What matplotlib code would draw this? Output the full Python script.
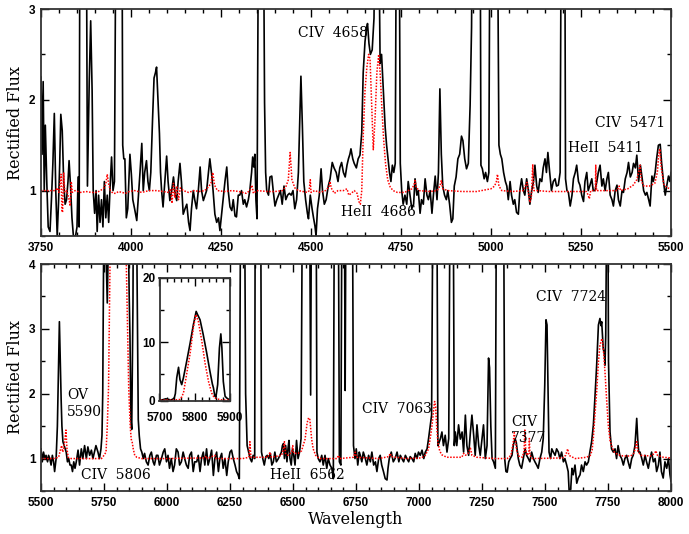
import matplotlib
matplotlib.use('Agg')
import matplotlib.pyplot as plt
from matplotlib.ticker import MultipleLocator, FormatStrFormatter

# ---- observed spectrum, blue part (wavelength, rectified flux) ----
blue_wave = [3750, 3753, 3756, 3759, 3762, 3766, 3770, 3775, 3779, 3783, 3787, 3791, 3795, 3799, 3802, 3805,
             3809, 3813, 3817, 3821, 3825, 3828, 3832, 3836, 3840, 3846, 3850, 3853, 3856, 3858, 3870, 3876,
             3879, 3884, 3888, 3892, 3895, 3899, 3903, 3906, 3910, 3914, 3918, 3922, 3926, 3930, 3934, 3938,
             3942, 3946, 3950, 3954, 3958, 3975, 3977, 3980, 3983, 3987, 3991, 3994, 3997, 4001, 4005, 4010,
             4016, 4020, 4025, 4030, 4034, 4038, 4043, 4047, 4051, 4055, 4060, 4064, 4068, 4071, 4075, 4079,
             4082, 4085, 4089, 4094, 4099, 4103, 4108, 4113, 4118, 4123, 4127, 4131, 4136, 4140, 4145, 4150,
             4155, 4160, 4164, 4168, 4173, 4177, 4182, 4187, 4192, 4196, 4201, 4206, 4210, 4215, 4219, 4224,
             4228, 4233, 4238, 4243, 4247, 4252, 4257, 4261, 4266, 4270, 4275, 4280, 4284, 4289, 4293, 4298,
             4302, 4307, 4312, 4316, 4321, 4326, 4330, 4335, 4338, 4341, 4344, 4347, 4350, 4354, 4368, 4371,
             4374, 4377, 4382, 4386, 4391, 4395, 4400, 4405, 4410, 4415, 4420, 4425, 4430, 4435, 4440, 4445,
             4450, 4455, 4460, 4465, 4469, 4472, 4476, 4480, 4485, 4490, 4493, 4498, 4503, 4507, 4511, 4514,
             4518, 4523, 4528, 4532, 4537, 4542, 4548, 4553, 4559, 4564, 4570, 4575, 4580, 4585, 4590, 4595,
             4600, 4604, 4608, 4611, 4616, 4620, 4626, 4631, 4636, 4641, 4645, 4650, 4654, 4657, 4661, 4665,
             4670, 4675, 4678, 4688, 4692, 4696, 4701, 4706, 4710, 4714, 4718, 4722, 4726, 4730, 4734, 4737,
             4745, 4748, 4752, 4756, 4761, 4766, 4770, 4775, 4780, 4785, 4789, 4794, 4798, 4803, 4807, 4812,
             4817, 4822, 4826, 4831, 4836, 4840, 4845, 4850, 4854, 4858, 4862, 4866, 4871, 4876, 4880, 4885,
             4890, 4894, 4898, 4903, 4908, 4913, 4918, 4922, 4927, 4932, 4937, 4942, 4946, 4948, 4970, 4972,
             4976, 4981, 4985, 4990, 4994, 4997, 5018, 5022, 5026, 5030, 5035, 5040, 5044, 5048, 5053, 5057,
             5062, 5066, 5071, 5076, 5080, 5085, 5090, 5094, 5099, 5104, 5108, 5113, 5118, 5122, 5127, 5131,
             5136, 5141, 5145, 5150, 5154, 5158, 5163, 5168, 5173, 5178, 5182, 5187, 5192, 5195, 5205, 5207,
             5211, 5215, 5220, 5225, 5229, 5234, 5238, 5243, 5247, 5252, 5257, 5261, 5266, 5270, 5275, 5280,
             5284, 5289, 5294, 5298, 5303, 5308, 5312, 5317, 5322, 5326, 5331, 5336, 5340, 5345, 5350, 5354,
             5359, 5364, 5368, 5373, 5378, 5382, 5387, 5392, 5396, 5401, 5405, 5410, 5415, 5420, 5424, 5429,
             5433, 5438, 5442, 5447, 5451, 5456, 5460, 5465, 5470, 5474, 5479, 5484, 5488, 5493, 5497, 5500]
blue_flux = [2.25, 1.4, 2.2, 1.0, 1.72, 1.1, 0.6, 0.55, 0.9, 1.3, 1.85, 1.0, 0.5, 0.9, 1.3, 1.84,
             1.66, 1.1, 0.85, 0.9, 1.1, 1.33, 1.05, 0.7, 0.5, 0.5, 0.6, 1.15, 0.6, 4.0, 4.0, 4.0,
             1.05, 2.2, 2.87, 2.1, 1.0, 0.75, 1.0, 0.55, 0.95, 0.65, 0.9, 0.6, 1.1, 0.7, 0.95, 0.65,
             1.05, 1.37, 1.0, 1.1, 4.0, 4.0, 1.5, 1.35, 1.35, 0.7, 0.8, 1.1, 1.4, 1.18, 0.9, 0.8,
             0.67, 0.9, 1.2, 1.52, 1.0, 1.2, 1.33, 1.1, 1.0, 1.2, 1.8, 2.24, 2.3, 2.36, 2.0, 1.63,
             1.2, 1.0, 0.82, 1.1, 1.38, 1.1, 0.89, 1.0, 1.15, 0.95, 0.89, 1.1, 1.3, 1.1, 0.74, 0.8,
             0.85, 0.65, 0.56, 0.8, 1.0, 0.9, 0.8, 1.0, 1.26, 1.0, 0.89, 0.95, 1.0, 1.2, 1.35, 1.18,
             1.0, 0.74, 0.65, 0.7, 0.56, 0.75, 0.95, 1.1, 1.26, 1.0, 0.82, 0.78, 0.9, 0.72, 0.71, 0.95,
             0.95, 1.0, 0.85, 0.9, 0.82, 0.9, 1.0, 1.2, 1.37, 1.26, 1.4, 0.9, 0.69, 4.0, 4.0, 1.97,
             1.2, 1.0, 0.95, 1.15, 1.16, 1.0, 0.83, 0.9, 0.95, 1.0, 0.85, 1.05, 0.9, 0.95, 0.97, 0.95,
             1.0, 0.8, 0.9, 1.2, 1.79, 2.26, 1.72, 1.1, 0.9, 0.75, 0.69, 0.95, 0.8, 0.7, 0.61, 0.5,
             0.8, 0.95, 1.24, 1.0, 0.85, 0.9, 1.05, 1.13, 1.31, 1.25, 1.2, 1.1, 1.25, 1.31, 1.2, 1.15,
             1.28, 1.35, 1.4, 1.46, 1.35, 1.3, 1.25, 1.35, 1.39, 1.64, 2.3, 2.64, 2.78, 2.84, 2.62, 2.5,
             2.55, 2.9, 4.0, 4.0, 2.4, 2.5, 2.1, 1.7, 1.5, 1.35, 1.2, 1.1, 1.28, 1.2, 1.3, 4.0,
             4.0, 1.3, 1.0, 0.85, 0.95, 0.85, 1.1, 0.95, 0.8, 0.85, 1.13, 0.95, 1.0, 0.75, 0.9, 0.85,
             1.13, 0.95, 0.9, 1.0, 0.75, 0.95, 1.16, 0.9, 1.2, 2.12, 1.4, 1.05, 0.95, 0.9, 1.0, 0.85,
             0.65, 0.69, 1.05, 1.15, 1.35, 1.4, 1.6, 1.55, 1.35, 1.24, 1.3, 1.94, 2.8, 4.0, 4.0, 1.28,
             1.24, 1.13, 1.2, 1.1, 1.2, 4.0, 4.0, 1.5, 1.4, 1.35, 1.2, 1.1, 1.05, 0.9, 1.1, 0.95,
             0.85, 0.9, 0.76, 0.74, 1.0, 1.13, 1.0, 0.95, 1.13, 1.0, 0.85, 1.0, 1.1, 1.28, 1.05, 0.98,
             1.13, 1.1, 1.25, 1.35, 1.2, 1.42, 1.2, 1.0, 1.1, 1.13, 1.05, 1.06, 1.2, 4.0, 4.0, 1.13,
             1.0, 0.98, 0.83, 0.95, 1.13, 1.2, 1.28, 1.1, 1.06, 0.95, 0.88, 1.1, 1.2, 1.0, 1.06, 1.13,
             1.0, 1.0, 1.1, 1.2, 1.28, 1.05, 1.13, 1.0, 1.13, 1.2, 0.95, 0.9, 0.83, 1.0, 1.06, 0.9,
             0.83, 1.0, 0.98, 1.13, 1.2, 1.31, 1.15, 1.2, 1.3, 1.25, 1.39, 1.1, 1.28, 1.13, 1.0, 0.95,
             0.98, 0.9, 0.83, 1.16, 1.1, 1.2, 1.35, 1.5, 1.51, 1.3, 1.1, 0.95, 1.05, 1.16, 1.1, 1.2]

# ---- model spectrum, blue part ----
blue_model_wave = [3750, 3790, 3795, 3800, 3806, 3808, 3810, 3813, 3816, 3822, 3828, 3831, 3834, 3837, 3845, 3860,
                   3875, 3890, 3905, 3915, 3925, 3930, 3934, 3938, 3943, 3950, 3958, 3965, 3975, 3985, 3995, 4010,
                   4030, 4050, 4070, 4090, 4105, 4110, 4114, 4118, 4122, 4127, 4132, 4137, 4145, 4160, 4175, 4190,
                   4205, 4215, 4222, 4227, 4232, 4240, 4260, 4280, 4300, 4320, 4330, 4336, 4340, 4350, 4380, 4400,
                   4420, 4430, 4437, 4442, 4447, 4455, 4465, 4490, 4495, 4498, 4500, 4510, 4525, 4540, 4550, 4553,
                   4556, 4565, 4575, 4590, 4600, 4605, 4612, 4620, 4628, 4633, 4637, 4641, 4645, 4650, 4655, 4660,
                   4664, 4668, 4673, 4678, 4683, 4688, 4692, 4697, 4702, 4707, 4713, 4720, 4728, 4740, 4760, 4780,
                   4786, 4789, 4792, 4800, 4830, 4850, 4858, 4862, 4866, 4880, 4920, 4960, 5000, 5010, 5015, 5018,
                   5022, 5030, 5060, 5090, 5096, 5100, 5104, 5108, 5112, 5116, 5119, 5130, 5160, 5200, 5240, 5265,
                   5270, 5273, 5277, 5290, 5291, 5293, 5320, 5350, 5356, 5360, 5380, 5395, 5405, 5410, 5414, 5418,
                   5425, 5440, 5455, 5462, 5466, 5469, 5473, 5480, 5490, 5500]
blue_model_flux = [1.0, 1.0, 1.03, 0.98, 1.18, 0.78, 0.76, 1.2, 0.98, 1.0, 0.9, 0.83, 1.1, 0.98, 1.0, 0.98,
                   0.99, 0.98, 0.98, 1.0, 1.03, 1.07, 1.18, 1.07, 1.0, 0.97, 0.97, 0.99, 0.98, 0.97, 0.99, 1.0,
                   0.98, 1.0, 1.0, 0.99, 0.98, 1.02, 0.86, 1.08, 0.92, 1.05, 0.9, 1.03, 1.0, 0.98, 1.0, 0.99,
                   1.0, 1.04, 1.08, 1.2, 1.06, 1.0, 0.99, 1.0, 0.99, 0.97, 1.0, 1.06, 0.97, 1.0, 0.99, 0.99,
                   1.0, 1.04, 1.12, 1.42, 1.12, 1.03, 1.0, 0.98, 1.0, 1.12, 0.98, 1.0, 0.98, 1.0, 1.04, 1.1,
                   1.03, 0.97, 1.0, 1.0, 1.02, 0.95, 0.97, 1.0, 0.97, 0.88, 0.85, 1.0, 1.6, 2.1, 2.35, 2.5,
                   2.45, 2.0, 1.45, 1.8, 2.3, 2.5, 2.3, 1.9, 1.55, 1.3, 1.12, 1.04, 1.0, 0.98, 0.98, 1.02,
                   1.06, 1.11, 1.04, 1.0, 0.99, 1.0, 1.05, 1.11, 1.02, 1.0, 0.99, 0.99, 1.02, 1.05, 1.1, 1.18,
                   1.05, 1.0, 0.99, 1.0, 1.06, 1.09, 0.97, 0.87, 0.92, 1.29, 1.0, 1.0, 0.99, 0.99, 0.99, 0.99,
                   0.95, 0.91, 1.0, 1.0, 1.28, 1.0, 1.0, 1.0, 1.05, 1.0, 1.02, 1.06, 1.12, 1.2, 1.28, 1.1,
                   1.05, 1.05, 1.08, 1.2, 1.4, 1.46, 1.25, 1.07, 1.03, 1.02]

# ---- observed spectrum, red part ----
red_wave = [5500, 5505, 5510, 5515, 5520, 5526, 5530, 5535, 5540, 5545, 5550, 5554, 5560, 5565, 5569, 5573,
            5576, 5580, 5583, 5587, 5592, 5596, 5600, 5605, 5610, 5615, 5620, 5625, 5630, 5635, 5640, 5647,
            5653, 5660, 5666, 5673, 5680, 5686, 5693, 5700, 5706, 5712, 5718, 5726, 5732, 5738, 5742, 5745,
            5749, 5754, 5758, 5763, 5768, 5777, 5787, 5796, 5804, 5808, 5815, 5824, 5834, 5843, 5850, 5853,
            5857, 5860, 5865, 5870, 5874, 5877, 5881, 5886, 5890, 5895, 5900, 5906, 5911, 5918, 5925, 5932,
            5938, 5945, 5950, 5958, 5964, 5970, 5978, 5985, 5991, 5998, 6004, 6010, 6017, 6024, 6030, 6037,
            6044, 6050, 6057, 6064, 6070, 6077, 6084, 6090, 6097, 6104, 6110, 6118, 6124, 6131, 6137, 6144,
            6150, 6157, 6163, 6170, 6177, 6184, 6190, 6197, 6204, 6210, 6217, 6223, 6230, 6237, 6243, 6250,
            6256, 6263, 6270, 6276, 6282, 6287, 6292, 6308, 6312, 6318, 6324, 6330, 6336, 6342, 6348, 6350,
            6372, 6375, 6380, 6386, 6392, 6398, 6404, 6410, 6416, 6422, 6428, 6434, 6442, 6448, 6454, 6458,
            6462, 6466, 6471, 6476, 6480, 6484, 6488, 6493, 6498, 6503, 6508, 6514, 6520, 6526, 6532, 6537,
            6566, 6570, 6573, 6592, 6595, 6600, 6607, 6614, 6620, 6627, 6634, 6640, 6647, 6654, 6660, 6664,
            6680, 6684, 6690, 6694, 6704, 6707, 6710, 6736, 6740, 6746, 6751, 6757, 6763, 6767, 6773, 6779,
            6787, 6793, 6800, 6807, 6813, 6820, 6827, 6833, 6840, 6846, 6852, 6859, 6866, 6873, 6877, 6882,
            6890, 6898, 6905, 6913, 6920, 6926, 6932, 6939, 6946, 6952, 6959, 6965, 6972, 6979, 6985, 6992,
            6998, 7005, 7012, 7019, 7025, 7032, 7038, 7045, 7050, 7055, 7071, 7075, 7080, 7085, 7091, 7097,
            7104, 7111, 7118, 7123, 7136, 7140, 7144, 7150, 7157, 7164, 7171, 7177, 7184, 7190, 7197, 7204,
            7210, 7217, 7223, 7230, 7237, 7243, 7250, 7256, 7263, 7270, 7276, 7280, 7285, 7290, 7296, 7303,
            7307, 7336, 7340, 7345, 7350, 7356, 7362, 7369, 7374, 7381, 7386, 7394, 7400, 7407, 7414, 7421,
            7427, 7434, 7440, 7447, 7454, 7460, 7467, 7473, 7480, 7487, 7493, 7499, 7504, 7508, 7512, 7516,
            7522, 7527, 7533, 7540, 7546, 7553, 7559, 7566, 7573, 7579, 7586, 7592, 7596, 7602, 7607, 7612,
            7619, 7626, 7632, 7639, 7645, 7652, 7659, 7665, 7672, 7678, 7685, 7692, 7698, 7705, 7712, 7718,
            7722, 7725, 7731, 7736, 7738, 7741, 7744, 7750, 7752, 7758, 7764, 7771, 7778, 7784, 7790, 7797,
            7804, 7811, 7817, 7824, 7830, 7837, 7844, 7850, 7857, 7864, 7868, 7872, 7877, 7884, 7890, 7897,
            7903, 7910, 7917, 7923, 7930, 7937, 7943, 7950, 7956, 7962, 7969, 7976, 7983, 7990, 7996, 8000]
red_flux = [1.15, 0.95, 1.1, 1.0, 1.05, 0.95, 1.05, 1.0, 0.9, 1.05, 0.95, 0.8, 1.0, 1.5, 2.3, 3.11,
            2.6, 1.9, 1.5, 1.26, 1.2, 1.15, 1.1, 0.95, 1.0, 0.9, 0.9, 0.8, 0.95, 0.85, 0.95, 1.13,
            0.9, 1.15, 1.0, 1.2, 1.0, 1.18, 1.05, 1.13, 1.0, 1.1, 1.2, 1.1, 1.0, 1.15, 1.36, 2.0,
            4.5, 6.1, 4.2, 3.4, 4.5, 7.0, 9.9, 12.7, 14.8, 14.3, 13.5, 11.2, 8.3, 5.5, 3.5, 2.9,
            1.6, 1.45, 3.4, 9.1, 11.3, 9.1, 3.9, 1.6, 1.35, 1.15, 1.1, 1.0, 1.08, 0.95, 0.9, 1.05,
            1.1, 0.95, 0.9, 1.05, 1.05, 0.9, 1.0, 1.1, 1.15, 0.95, 1.05, 0.85, 1.0, 0.8, 0.9, 1.15,
            1.1, 0.9, 0.95, 1.1, 1.0, 0.9, 0.85, 1.05, 1.1, 0.8, 0.95, 0.95, 1.05, 0.8, 1.0, 1.1,
            0.9, 1.15, 0.9, 1.0, 1.13, 0.74, 1.0, 1.1, 0.8, 1.0, 1.08, 0.85, 1.0, 0.74, 0.95, 1.1,
            1.13, 1.0, 0.9, 0.8, 0.75, 0.69, 5.0, 5.0, 2.0, 1.2, 1.1, 1.0, 0.95, 1.05, 1.0, 5.0,
            5.0, 1.1, 1.0, 0.9, 1.03, 1.05, 1.0, 1.08, 0.9, 0.95, 1.1, 0.95, 1.0, 1.05, 1.1, 1.2,
            1.23, 1.0, 1.2, 0.95, 1.15, 1.28, 1.0, 0.9, 1.15, 1.05, 0.9, 1.28, 1.0, 1.1, 1.31, 5.0,
            5.0, 1.98, 5.0, 5.0, 1.1, 1.0, 0.95, 1.05, 0.9, 1.05, 0.85, 1.0, 0.9, 0.85, 0.69, 5.0,
            5.0, 0.95, 0.9, 5.0, 5.0, 2.05, 5.0, 5.0, 1.2, 1.0, 1.15, 0.9, 1.1, 1.05, 0.95, 1.1,
            1.0, 0.9, 1.05, 0.95, 1.1, 0.9, 0.95, 0.8, 1.0, 1.05, 0.9, 0.8, 0.69, 0.67, 0.85, 1.0,
            1.1, 0.95, 1.0, 1.1, 0.95, 1.05, 1.0, 0.95, 1.05, 1.0, 0.95, 1.03, 1.0, 0.95, 1.08, 1.0,
            1.1, 1.05, 1.13, 1.0, 1.1, 1.15, 1.31, 1.52, 1.67, 5.0, 5.0, 1.2, 1.25, 1.31, 1.41, 1.2,
            1.36, 1.1, 1.31, 5.0, 5.0, 1.2, 1.41, 1.2, 1.52, 1.3, 1.41, 1.1, 1.67, 1.2, 1.05, 1.41,
            1.67, 1.36, 1.05, 1.52, 1.2, 1.05, 1.31, 1.52, 1.0, 1.2, 2.55, 2.4, 1.5, 1.0, 0.95, 0.85,
            5.0, 5.0, 1.0, 0.8, 0.79, 0.95, 1.0, 1.05, 1.2, 1.31, 1.25, 1.0, 0.9, 0.85, 1.0, 1.15,
            1.05, 1.0, 0.95, 1.1, 1.0, 0.95, 0.9, 0.85, 1.0, 1.1, 1.31, 2.13, 3.14, 3.06, 2.03, 1.1,
            1.0, 1.15, 1.1, 1.05, 1.15, 1.1, 1.0, 1.1, 0.95, 1.0, 0.9, 0.8, 0.48, 0.53, 0.85, 0.75,
            0.9, 0.62, 0.7, 0.75, 0.9, 0.8, 0.95, 0.9, 0.95, 1.1, 1.26, 1.52, 1.93, 2.44, 3.06, 3.16,
            3.05, 3.11, 2.7, 2.6, 2.44, 2.9, 4.5, 4.5, 2.5, 1.41, 1.15, 1.1, 1.15, 1.0, 1.2, 1.05,
            1.0, 0.9, 1.0, 1.05, 0.95, 0.85, 1.0, 1.05, 1.2, 1.62, 1.3, 1.1, 1.1, 1.0, 0.9, 1.05,
            0.95, 0.85, 1.0, 1.1, 0.95, 1.0, 0.8, 0.9, 1.1, 0.8, 0.7, 0.95, 0.85, 1.0, 0.75, 0.65]

# ---- model spectrum, red part ----
red_model_wave = [5500, 5550, 5570, 5578, 5582, 5586, 5590, 5595, 5599, 5603, 5608, 5620, 5700, 5740, 5750, 5758,
                  5763, 5768, 5777, 5787, 5796, 5803, 5810, 5820, 5829, 5839, 5848, 5854, 5858, 5862, 5866, 5872,
                  5880, 5900, 6000, 6150, 6155, 6160, 6190, 6195, 6300, 6325, 6329, 6333, 6400, 6409, 6414, 6455,
                  6462, 6466, 6470, 6480, 6495, 6499, 6503, 6520, 6534, 6548, 6556, 6562, 6567, 6574, 6580, 6590,
                  6605, 6675, 6680, 6685, 6740, 6747, 6752, 6840, 6880, 6886, 6890, 6950, 7010, 7025, 7038, 7046,
                  7052, 7058, 7062, 7066, 7070, 7075, 7082, 7090, 7110, 7170, 7177, 7184, 7195, 7204, 7210, 7230,
                  7300, 7350, 7365, 7374, 7378, 7382, 7388, 7395, 7410, 7417, 7420, 7424, 7430, 7436, 7438, 7440,
                  7450, 7570, 7582, 7590, 7595, 7620, 7665, 7680, 7687, 7692, 7698, 7705, 7712, 7718, 7726, 7731,
                  7738, 7745, 7751, 7758, 7766, 7775, 7790, 7810, 7840, 7852, 7858, 7864, 7868, 7880, 7920, 7935,
                  7940, 7946, 7970, 8000]
red_model_flux = [1.0, 1.0, 1.02, 1.15, 1.2, 1.1, 1.15, 1.3, 1.44, 1.15, 1.02, 1.0, 1.0, 1.0, 1.05, 1.1,
                  1.5, 2.1, 5.0, 8.3, 12.2, 14.3, 13.3, 10.2, 6.8, 3.9, 2.1, 1.5, 1.3, 1.25, 1.15, 1.05,
                  1.02, 1.0, 1.0, 1.01, 1.04, 1.0, 1.05, 1.0, 1.0, 1.02, 1.26, 1.02, 1.02, 1.1, 1.02, 1.05,
                  1.15, 1.26, 1.08, 1.05, 1.1, 1.2, 1.08, 1.08, 1.12, 1.3, 1.55, 1.63, 1.6, 1.3, 1.15, 1.05,
                  1.0, 1.0, 1.05, 1.0, 1.02, 1.1, 1.02, 1.0, 1.03, 1.08, 1.03, 1.0, 1.01, 1.05, 1.15, 1.35,
                  1.52, 1.75, 1.88, 1.8, 1.5, 1.25, 1.12, 1.06, 1.02, 1.02, 1.08, 1.05, 1.08, 1.16, 1.05, 1.02,
                  1.0, 1.0, 1.05, 1.25, 1.4, 1.3, 1.12, 1.04, 1.02, 1.12, 1.44, 1.1, 1.05, 1.1, 1.31, 1.05,
                  1.0, 1.01, 1.05, 1.15, 1.05, 1.0, 1.02, 1.05, 1.13, 1.33, 1.67, 2.03, 2.49, 2.75, 2.85, 2.72,
                  2.34, 1.88, 1.52, 1.28, 1.18, 1.1, 1.06, 1.04, 1.04, 1.08, 1.15, 1.26, 1.12, 1.05, 1.04, 1.08,
                  1.12, 1.05, 1.02, 1.01]

# line identifications
top_labels = ['CIV  4658', 'HeII  4686', 'CIV  5471', 'HeII  5411']
bottom_labels = ['OV\n5590', 'CIV  5806', 'HeII  6562', 'CIV  7063', 'CIV\n7377', 'CIV  7724']

W, H = 689, 534
fig = plt.figure(figsize=(W / 100, H / 100), dpi=100)

serif = 'DejaVu Serif'
tickfont = {'family': 'Liberation Sans', 'weight': 'bold', 'size': 8.5}


def pix_axes(x0, y0, x1, y1):
    return fig.add_axes([x0 / W, 1 - y1 / H, (x1 - x0) / W, (y1 - y0) / H])


def style(ax, xmaj, xmin, ymaj, ymin):
    ax.xaxis.set_major_locator(MultipleLocator(xmaj))
    ax.xaxis.set_minor_locator(MultipleLocator(xmin))
    ax.yaxis.set_major_locator(MultipleLocator(ymaj))
    ax.yaxis.set_minor_locator(MultipleLocator(ymin))
    ax.yaxis.set_major_formatter(FormatStrFormatter('%d'))
    ax.tick_params(which='both', direction='in', top=True, right=True, width=1, pad=4)
    ax.tick_params(which='major', length=6)
    ax.tick_params(which='minor', length=3)
    for lab in ax.get_xticklabels() + ax.get_yticklabels():
        lab.set_fontproperties(tickfont)
    for sp in ax.spines.values():
        sp.set_linewidth(1.3)
        sp.set_color('#333333')


# top panel
ax1 = pix_axes(41, 9, 671, 236)
ax1.plot(blue_wave, blue_flux, color='black', lw=1.2)
ax1.plot(blue_model_wave, blue_model_flux, color='red', lw=1.1, ls=(0, (1, 1)))
ax1.set_xlim(3750, 5500)
ax1.set_ylim(0.5, 3)
style(ax1, 250, 50, 1, 0.5)
ax1.text(4561, 2.74, top_labels[0], family=serif, fontsize=10, ha='center', va='center')
ax1.text(4686, 0.76, top_labels[1], family=serif, fontsize=10, ha='center', va='center')
ax1.text(5483, 1.74, top_labels[2], family=serif, fontsize=10, ha='right', va='center')
ax1.text(5319, 1.47, top_labels[3], family=serif, fontsize=10, ha='center', va='center')

# bottom panel
ax2 = pix_axes(41, 264, 671, 491)
ax2.plot(red_wave, red_flux, color='black', lw=1.2)
ax2.plot(red_model_wave, red_model_flux, color='red', lw=1.1, ls=(0, (1, 1)))
ax2.set_xlim(5500, 8000)
ax2.set_ylim(0.5, 4)
style(ax2, 250, 50, 1, 0.5)
ax2.text(5603, 1.85, bottom_labels[0], family=serif, fontsize=10, ha='left', va='center', linespacing=1.25)
ax2.text(5798, 0.75, bottom_labels[1], family=serif, fontsize=10, ha='center', va='center')
ax2.text(6559, 0.75, bottom_labels[2], family=serif, fontsize=10, ha='center', va='center')
ax2.text(6913, 1.76, bottom_labels[3], family=serif, fontsize=10, ha='center', va='center')
ax2.text(7365, 1.44, bottom_labels[4], family=serif, fontsize=10, ha='left', va='center', linespacing=1.25)
ax2.text(7603, 3.49, bottom_labels[5], family=serif, fontsize=10, ha='center', va='center')

# inset on the CIV 5806 blend
ax3 = pix_axes(159.5, 278, 230, 400.7)
ax3.plot(red_wave, red_flux, color='black', lw=1.2)
ax3.plot(red_model_wave, red_model_flux, color='red', lw=1.1, ls=(0, (1, 1)))
ax3.set_xlim(5700, 5900)
ax3.set_ylim(0.9, 20)
style(ax3, 100, 20, 10, 5)
ax3.set_yticks([0.9, 10, 20])
ax3.set_yticklabels(['0', '10', '20'])
for lab in ax3.get_yticklabels():
    lab.set_fontproperties(tickfont)
ax3.tick_params(axis='x', pad=8)
ax3.tick_params(axis='y', pad=3)

fig.text(16 / W, 1 - 122.5 / H, 'Rectified Flux', family=serif, fontsize=11.5, rotation=90,
         ha='center', va='center')
fig.text(16 / W, 1 - 377.5 / H, 'Rectified Flux', family=serif, fontsize=11.5, rotation=90,
         ha='center', va='center')
fig.text(356 / W, 1 - 520 / H, 'Wavelength', family=serif, fontsize=11.5, ha='center', va='center')

fig.savefig('out.png', dpi=100)
